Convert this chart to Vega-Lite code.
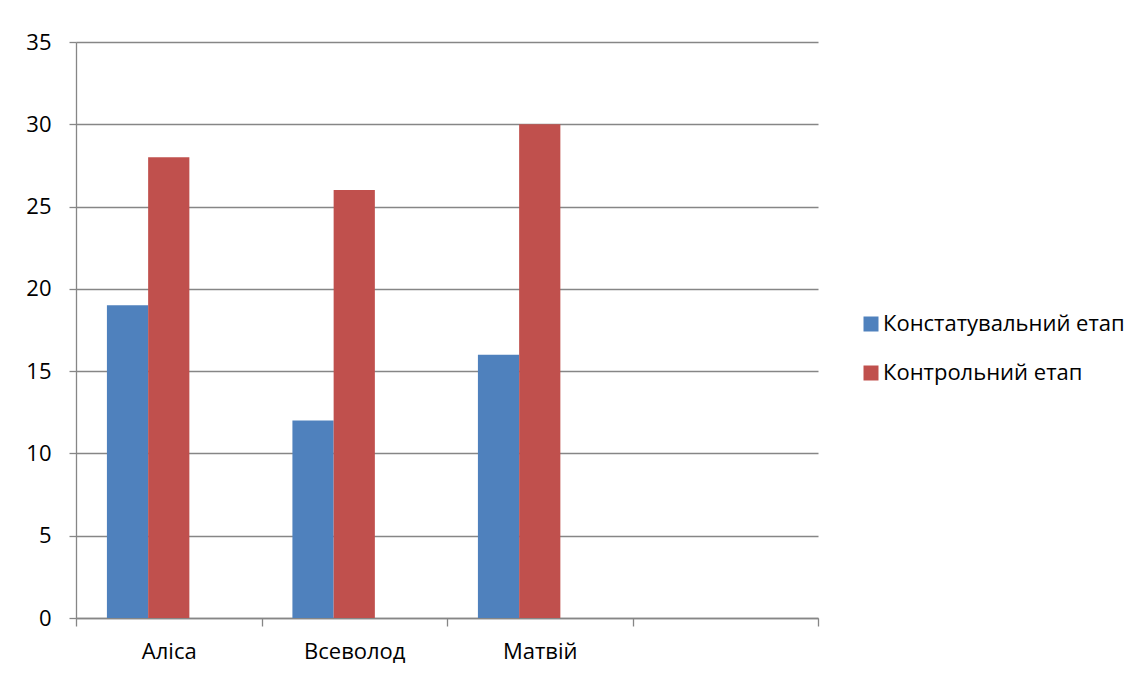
{
  "$schema": "https://vega.github.io/schema/vega-lite/v6.json",
  "width": 742,
  "height": 576,
  "autosize": {"type": "none"},
  "padding": {"left": 76, "top": 42, "right": 329, "bottom": 59},
  "background": "white",
  "config": {
    "view": {"stroke": null},
    "font": "Open Sans",
    "axis": {"labelFont": "Open Sans", "labelColor": "#000000", "labelFontSize": 22, "domainColor": "#868686", "tickColor": "#868686", "gridColor": "#868686", "domainWidth": 1.3, "tickWidth": 1.3, "gridWidth": 1.3}
  },
  "data": {
    "values": [
      {"name": "Аліса", "stage": "Констатувальний етап", "value": 19},
      {"name": "Аліса", "stage": "Контрольний етап", "value": 28},
      {"name": "Всеволод", "stage": "Констатувальний етап", "value": 12},
      {"name": "Всеволод", "stage": "Контрольний етап", "value": 26},
      {"name": "Матвій", "stage": "Констатувальний етап", "value": 16},
      {"name": "Матвій", "stage": "Контрольний етап", "value": 30}
    ]
  },
  "mark": {"type": "bar"},
  "encoding": {
    "x": {
      "field": "name",
      "type": "nominal",
      "sort": null,
      "scale": {"domain": ["Аліса", "Всеволод", "Матвій", " "], "paddingInner": 0, "paddingOuter": 0},
      "axis": {"title": null, "labelAngle": 0, "labelFontSize": 22, "tickBand": "extent", "tickSize": 8, "labelPadding": 15, "grid": false}
    },
    "xOffset": {
      "field": "stage",
      "type": "nominal",
      "scale": {"domain": ["Констатувальний етап", "Контрольний етап", "—"], "paddingInner": 0, "paddingOuter": 0.75}
    },
    "y": {
      "field": "value",
      "type": "quantitative",
      "scale": {"domain": [0, 35], "nice": false},
      "axis": {"title": null, "values": [0, 5, 10, 15, 20, 25, 30, 35], "labelFontSize": 22, "tickSize": 7, "labelPadding": 18, "grid": true}
    },
    "color": {
      "field": "stage",
      "type": "nominal",
      "scale": {"domain": ["Констатувальний етап", "Контрольний етап"], "range": ["#4F81BD", "#C0504D"]},
      "legend": {
        "title": null,
        "orient": "none",
        "legendX": 784,
        "legendY": 271,
        "symbolType": "square",
        "symbolSize": 225,
        "symbolStrokeWidth": 0,
        "labelFontSize": 22,
        "labelFont": "Open Sans",
        "labelColor": "#000000",
        "labelOffset": 1,
        "labelLimit": 400,
        "rowPadding": 27,
        "padding": 0
      }
    }
  }
}
